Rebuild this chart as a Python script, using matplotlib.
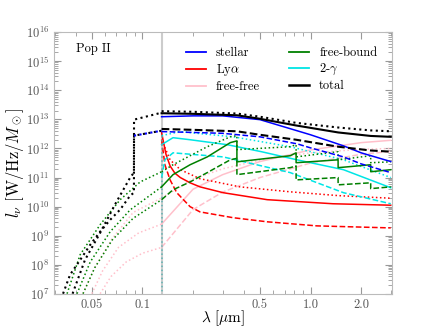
import numpy as np
import matplotlib
matplotlib.use("Agg")
import matplotlib.pyplot as plt
from matplotlib.lines import Line2D
from matplotlib.ticker import LogLocator, NullFormatter, FixedLocator, FixedFormatter

plt.rcParams["font.family"] = "serif"
plt.rcParams["font.serif"] = ["cmr10", "DejaVu Serif"]
plt.rcParams["mathtext.fontset"] = "cm"
plt.rcParams["axes.formatter.use_mathtext"] = True

# -- data: wavelength [um] and log10 l_nu [W/Hz/Msun] ----
# models: a = solid, b = dashed, c = dotted
LAM_CUT = 0.13

total_lam = [0.13, 0.2, 0.3646, 0.5, 0.82, 1.46, 2.28, 3.0]
total_a = [13.21, 13.19, 13.14, 13.02, 12.79, 12.55, 12.43, 12.40]
total_b = [12.67, 12.64, 12.59, 12.47, 12.30, 12.06, 11.93, 11.89]
total_c = [13.28, 13.26, 13.20, 13.09, 12.88, 12.72, 12.62, 12.59]

stellar_lam = [0.13, 0.2, 0.3, 0.5, 0.83, 1.0, 1.57, 2.0, 3.0]
stellar_a = [13.09, 13.12, 13.12, 12.99, 12.61, 12.47, 12.09, 11.85, 11.55]
stellar_b = [12.58, 12.55, 12.52, 12.40, 12.16, 12.02, 11.71, 11.47, 11.17]

lya_a_lam = [0.13, 0.138, 0.146, 0.156, 0.168, 0.192, 0.22, 0.302, 0.552, 1.36, 3.0]
lya_a = [12.54, 11.80, 11.40, 11.15, 11.00, 10.82, 10.68, 10.48, 10.24, 10.10, 10.05]
lya_b_lam = [0.13, 0.136, 0.146, 0.16, 0.192, 0.22, 0.347, 0.552, 1.09, 3.0]
lya_b = [12.30, 11.44, 10.92, 10.48, 10.00, 9.82, 9.62, 9.48, 9.34, 9.27]
lya_c_lam = [0.13, 0.146, 0.168, 0.22, 0.381, 0.757, 1.46, 3.0]
lya_c = [12.30, 11.61, 11.27, 10.96, 10.68, 10.51, 10.38, 10.29]

ff_lam = [0.13, 0.2, 0.3, 0.5, 1.0, 2.0, 3.0]
ff_a = [9.40, 10.60, 11.10, 11.55, 11.95, 12.20, 12.28]
ff_b = [8.60, 9.90, 10.50, 11.00, 11.50, 11.80, 11.90]
ff_c = [10.30, 10.95, 11.30, 11.60, 11.85, 11.97, 12.00]

fb_lam = [0.13, 0.152, 0.192, 0.243, 0.333, 0.3646, 0.3647, 0.757, 0.8204,
          0.8205, 1.458, 1.459, 2.279, 2.28, 3.0]
fb_a = [10.68, 11.10, 11.44, 11.71, 12.20, 12.26, 11.54, 11.75, 11.85,
        11.51, 11.61, 11.34, 11.44, 11.20, 11.27]
fb_b = [10.24, 10.58, 10.85, 11.17, 11.61, 11.66, 11.10, 11.34, 11.40,
        10.92, 11.00, 10.75, 10.82, 10.62, 10.68]
fb_c = [11.20, 11.44, 11.75, 12.06, 12.40, 12.44, 11.96, 12.06, 12.13,
        11.71, 11.89, 11.61, 11.75, 11.51, 11.54]

tg_a_lam = [0.13, 0.152, 0.192, 0.319, 0.509, 0.83, 1.57, 3.0]
tg_a = [12.13, 12.37, 12.30, 12.13, 11.89, 11.61, 11.27, 10.65]
tg_b_lam = [0.13, 0.136, 0.152, 0.302, 0.757, 1.57, 3.0]
tg_b = [11.00, 11.61, 11.85, 11.71, 11.17, 10.48, 10.10]
tg_c_lam = [0.13, 0.168, 0.22, 0.347, 0.757, 1.57, 3.0]
tg_c = [12.44, 12.58, 12.51, 12.40, 12.06, 11.61, 11.00]

# ionising side (drawn dotted for every model)
tot_left_a_lam = [0.0337, 0.0371, 0.0426, 0.0489, 0.056, 0.0643, 0.0737, 0.0845, 0.089, 0.0891, 0.13]
tot_left_a = [7.01, 7.66, 8.17, 8.69, 9.14, 9.55, 9.90, 10.38, 10.48, 12.99, 13.23]
tot_left_b_lam = [0.0384, 0.0455, 0.056, 0.0686, 0.0845, 0.089, 0.0891, 0.13]
tot_left_b = [7.01, 8.17, 9.10, 10.07, 11.00, 11.17, 12.44, 12.61]
st_left_lam = [0.0891, 0.13]
st_left = [12.44, 12.61]

fb_left_c_lam = [0.0356, 0.0426, 0.056, 0.0737, 0.0969, 0.13]
fb_left_c = [7.01, 8.35, 9.38, 10.24, 10.85, 11.20]
fb_left_a_lam = [0.0408, 0.0489, 0.0643, 0.0845, 0.13]
fb_left_a = [7.01, 8.10, 9.14, 9.89, 10.68]
fb_left_b_lam = [0.0443, 0.052, 0.066, 0.088, 0.13]
fb_left_b = [7.01, 7.90, 8.85, 9.60, 10.24]

ff_left_c_lam = [0.0443, 0.052, 0.066, 0.088, 0.13]
ff_left_c = [7.01, 7.90, 8.90, 9.80, 10.30]
ff_left_a_lam = [0.05, 0.058, 0.072, 0.095, 0.13]
ff_left_a = [7.01, 7.80, 8.60, 9.10, 9.40]
ff_left_b_lam = [0.056, 0.065, 0.08, 0.1, 0.13]
ff_left_b = [7.01, 7.60, 8.10, 8.40, 8.60]

tg_drop_lam = [0.13, 0.13]
tg_drop = [12.44, 6.0]

y_decades = [1e7, 1e8, 1e9, 1e10, 1e11, 1e12, 1e13, 1e14, 1e15, 1e16]
x_ticks = [0.05, 0.1, 0.5, 1.0, 2.0]
x_ticklabels = ["0.05", "0.1", "0.5", "1.0", "2.0"]

C = {"stellar": "#0000ff", "lya": "#ff0000", "ff": "#ffc0cb",
     "fb": "#008000", "tg": "#00e5e5", "total": "#000000"}
LS = {"a": "-", "b": "--", "c": ":"}

fig = plt.figure(figsize=(4.36, 3.27), dpi=100)
ax = fig.add_axes([0.124, 0.101, 0.775, 0.801])


def draw(lam, logl, color, ls, lw=1.1, z=2):
    ax.plot(lam, 10.0 ** np.asarray(logl), color=color, ls=ls, lw=lw, zorder=z)


ax.axvline(LAM_CUT, color="#cccccc", lw=1.5, zorder=1)

# free-free
draw(ff_lam, ff_a, C["ff"], LS["a"])
draw(ff_lam, ff_b, C["ff"], LS["b"])
draw(ff_lam, ff_c, C["ff"], LS["c"])
draw(ff_left_a_lam, ff_left_a, C["ff"], ":")
draw(ff_left_b_lam, ff_left_b, C["ff"], ":")
draw(ff_left_c_lam, ff_left_c, C["ff"], ":")
# Ly alpha
draw(lya_a_lam, lya_a, C["lya"], LS["a"])
draw(lya_b_lam, lya_b, C["lya"], LS["b"])
draw(lya_c_lam, lya_c, C["lya"], LS["c"])
# two-photon
draw(tg_a_lam, tg_a, C["tg"], LS["a"])
draw(tg_b_lam, tg_b, C["tg"], LS["b"])
draw(tg_c_lam, tg_c, C["tg"], LS["c"])
draw(tg_drop_lam, tg_drop, "#5fb3b3", ":")
# free-bound
draw(fb_lam, fb_a, C["fb"], LS["a"])
draw(fb_lam, fb_b, C["fb"], LS["b"])
draw(fb_lam, fb_c, C["fb"], LS["c"])
draw(fb_left_a_lam, fb_left_a, C["fb"], ":")
draw(fb_left_b_lam, fb_left_b, C["fb"], ":")
draw(fb_left_c_lam, fb_left_c, C["fb"], ":")
# stellar
draw(stellar_lam, stellar_a, C["stellar"], LS["a"], z=3)
draw(stellar_lam, stellar_b, C["stellar"], LS["b"], z=3)
# total
draw(total_lam, total_a, C["total"], LS["a"], lw=1.5, z=4)
draw(total_lam, total_b, C["total"], LS["b"], lw=1.5, z=4)
draw(total_lam, total_c, C["total"], LS["c"], lw=1.5, z=4)
draw(tot_left_a_lam, tot_left_a, C["total"], ":", lw=1.5, z=4)
draw(tot_left_b_lam, tot_left_b, C["total"], ":", lw=1.5, z=4)
draw(st_left_lam, st_left, C["stellar"], ":", lw=1.5, z=5)

ax.set_xscale("log")
ax.set_yscale("log")
ax.set_xlim(0.0298, 3.05)
ax.set_ylim(1e7, 1e16)

ax.xaxis.set_major_locator(FixedLocator(x_ticks))
ax.xaxis.set_major_formatter(FixedFormatter(x_ticklabels))
ax.xaxis.set_minor_locator(LogLocator(base=10, subs=np.arange(2, 10), numticks=20))
ax.xaxis.set_minor_formatter(NullFormatter())
ax.yaxis.set_major_locator(FixedLocator(y_decades))
ax.yaxis.set_minor_locator(LogLocator(base=10, subs=np.arange(2, 10), numticks=20))
ax.yaxis.set_minor_formatter(NullFormatter())

ax.tick_params(which="both", direction="in", top=True, right=True,
               color="#999999", labelcolor="#555555", labelsize=9)
ax.tick_params(which="major", length=5, width=0.8)
ax.tick_params(which="minor", length=3, width=0.6)
for s in ax.spines.values():
    s.set_color("#bbbbbb")

ax.set_xlabel(r"$\lambda\ [\mu{\rm m}]$", fontsize=11, labelpad=-2)
ax.set_ylabel(r"$l_\nu\ [{\rm W/Hz}/M_\odot]$", fontsize=12, labelpad=0)
ax.text(0.065, 0.935, "Pop II", transform=ax.transAxes, fontsize=9,
        va="center", ha="left")

handles = [Line2D([0], [0], color=C[k], lw=1.3 if k != "total" else 1.8)
           for k in ["stellar", "lya", "ff", "fb", "tg", "total"]]
labels = ["stellar", r"Ly$\alpha$", "free-free", "free-bound", r"2-$\gamma$", "total"]
ax.legend(handles, labels, ncol=2, frameon=False, loc="upper right",
          fontsize=9, handlelength=1.6, columnspacing=2.35,
          labelspacing=0.22, bbox_to_anchor=(0.99, 0.985))

fig.savefig("out.png", dpi=100)
